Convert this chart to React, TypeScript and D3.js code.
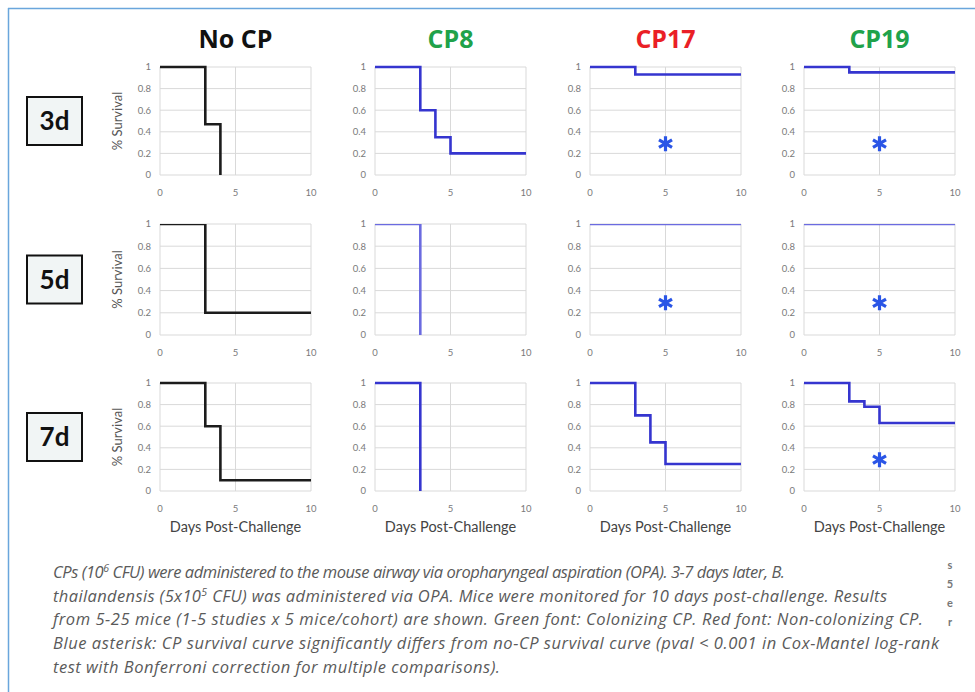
import React from 'react';
import * as d3 from 'd3';

// ---------- data ----------
const cohorts = ['No CP', 'CP8', 'CP17', 'CP19'];
const pretreatment = ['3d', '5d', '7d'];
const xTicks = [0, 5, 10];
const yTicks = [0, 0.2, 0.4, 0.6, 0.8, 1];
const yTickLabels = ['0', '0.2', '0.4', '0.6', '0.8', '1'];
const studyEnd = 10;

// Kaplan-Meier step events: [day, survival after event]
const noCP_3d: [number, number][] = [[0, 1], [3, 0.47], [4, 0]];
const cp8_3d: [number, number][] = [[0, 1], [3, 0.6], [4, 0.35], [5, 0.2]];
const cp17_3d: [number, number][] = [[0, 1], [3, 0.93]];
const cp19_3d: [number, number][] = [[0, 1], [3, 0.95]];
const noCP_5d: [number, number][] = [[0, 1], [3, 0.2]];
const cp8_5d: [number, number][] = [[0, 1], [3, 0]];
const cp17_5d: [number, number][] = [[0, 1]];
const cp19_5d: [number, number][] = [[0, 1]];
const noCP_7d: [number, number][] = [[0, 1], [3, 0.6], [4, 0.1]];
const cp8_7d: [number, number][] = [[0, 1], [3, 0]];
const cp17_7d: [number, number][] = [[0, 1], [3, 0.7], [4, 0.45], [5, 0.25]];
const cp19_7d: [number, number][] = [[0, 1], [3, 0.83], [4, 0.78], [5, 0.63]];

const curves = [
  [noCP_3d, cp8_3d, cp17_3d, cp19_3d],
  [noCP_5d, cp8_5d, cp17_5d, cp19_5d],
  [noCP_7d, cp8_7d, cp17_7d, cp19_7d],
];

const significant_3d = [false, false, true, true];
const significant_5d = [false, false, true, true];
const significant_7d = [false, false, false, true];
const significant = [significant_3d, significant_5d, significant_7d];
const asteriskDay = 5;
const asteriskLevel = 0.29;

const captionLines: { text: string; sup?: string; rest?: string }[] = [
  { text: 'CPs (10', sup: '6', rest: ' CFU) were administered to the mouse airway via oropharyngeal aspiration (OPA). 3-7 days later, B.' },
  { text: 'thailandensis (5x10', sup: '5', rest: ' CFU) was administered via OPA. Mice were monitored for 10 days post-challenge. Results' },
  { text: 'from 5-25 mice (1-5 studies x 5 mice/cohort) are shown. Green font: Colonizing CP. Red font: Non-colonizing CP.' },
  { text: 'Blue asterisk: CP survival curve significantly differs from no-CP survival curve (pval < 0.001 in Cox-Mantel log-rank' },
  { text: 'test with Bonferroni correction for multiple comparisons).' },
];
const strayGlyphs = ['s', '5', 'e', 'r'];

// ---------- style / layout ----------
const W = 975;
const H = 692;
const colLeft = [160, 375, 590, 804];
const plotW = 151;
const rowTop = [67, 224, 383];
const rowBottom = [175, 335, 491];
const captionWidths = [732, 834, 870, 886, 447];
const titleColors = ['#111111', '#20a24a', '#ea1f26', '#20a24a'];
const curveColors = ['#1c1c1c', '#3535cf', '#3535cf', '#3535cf'];
const gridColor = '#d9d9d9';
const tickColor = '#7a7a7a';
const chartFont = 'Lato, "Open Sans", sans-serif';
const titleFont = '"Open Sans", Lato, sans-serif';

function Panel({ r, c }: { r: number; c: number }) {
  const left = colLeft[c];
  const x = d3.scaleLinear().domain([0, studyEnd]).range([left, left + plotW]);
  const y = d3.scaleLinear().domain([0, 1]).range([rowBottom[r], rowTop[r]]);
  const ev = curves[r][c];
  const last = ev[ev.length - 1][1];
  const pts: [number, number][] = last > 0 ? [...ev, [studyEnd, last]] : ev;
  const line = d3
    .line<[number, number]>()
    .x((d) => x(d[0]))
    .y((d) => y(d[1]))
    .curve(d3.curveStepAfter);
  const clipId = `clip-${r}-${c}`;
  const clipTop = r === 1 ? y(1) : y(1) - 4;
  const ast = d3.symbol().type(d3.symbolAsterisk).size(160)();
  return (
    <g>
      <defs>
        <clipPath id={clipId}>
          <rect x={x(0) - 4} y={clipTop} width={plotW + 8} height={y(0) - clipTop + 4} />
        </clipPath>
      </defs>
      {yTicks.map((t) => (
        <line key={'h' + t} x1={x(0)} x2={x(studyEnd)} y1={y(t)} y2={y(t)} stroke={gridColor} strokeWidth={1} />
      ))}
      {xTicks.map((t) => (
        <line key={'v' + t} x1={x(t)} x2={x(t)} y1={y(0)} y2={y(1)} stroke={gridColor} strokeWidth={1} />
      ))}
      {yTicks.map((t, i) => (
        <text key={'yl' + t} x={x(0) - 9} y={y(t)} dy="0.35em" textAnchor="end" fontSize={9.5} fill={tickColor} fontFamily={chartFont}>
          {yTickLabels[i]}
        </text>
      ))}
      {xTicks.map((t) => (
        <text key={'xl' + t} x={x(t)} y={y(0) + 21} textAnchor="middle" fontSize={9.5} fill={tickColor} fontFamily={chartFont}>
          {t}
        </text>
      ))}
      <path
        d={line(pts) || ''}
        fill="none"
        stroke={r === 1 && c > 0 ? '#6b6be0' : curveColors[c]}
        strokeWidth={2.6}
        clipPath={`url(#${clipId})`}
      />
      {r === 1 && c === 1 && (
        <path
          d={line(pts.slice(1)) || ''}
          fill="none"
          stroke={curveColors[c]}
          strokeWidth={2.6}
        />
      )}
      {significant[r][c] && (
        <path d={ast || ''} transform={`translate(${x(asteriskDay)},${y(asteriskLevel)})`} fill="none" stroke="#2a55e6" strokeWidth={3.2} />
      )}
      {c === 0 && (
        <text
          transform={`translate(${117},${(rowTop[r] + rowBottom[r]) / 2}) rotate(-90)`}
          textAnchor="middle"
          dy="0.35em"
          fontSize={13}
          fill="#555"
          fontFamily={chartFont}
        >
          % Survival
        </text>
      )}
      {r === 2 && (
        <text x={x(5)} y={y(0) + 41} textAnchor="middle" fontSize={14.5} fill="#444" fontFamily={chartFont}>
          Days Post-Challenge
        </text>
      )}
    </g>
  );
}

export default function App() {
  return (
    <svg width={W} height={H} style={{ position: 'absolute', left: 0, top: 0, background: '#fff' }}>
      <rect x={0} y={0} width={W} height={H} fill="#fff" />
      <line x1={8} x2={W} y1={8.5} y2={8.5} stroke="#6aa6dc" strokeWidth={1.5} />
      <line x1={8.5} x2={8.5} y1={8} y2={H} stroke="#6aa6dc" strokeWidth={1.5} />
      {cohorts.map((name, c) => (
        <text key={name} x={colLeft[c] + plotW / 2} y={48} textAnchor="middle" fontSize={25} fontWeight={700} fill={titleColors[c]} fontFamily={titleFont}>
          {name}
        </text>
      ))}
      {pretreatment.map((lab, r) => {
        const cy = (rowTop[r] + rowBottom[r]) / 2;
        return (
          <g key={lab}>
            <rect x={27} y={cy - 24} width={55} height={48} fill="#f1f5f5" stroke="#111" strokeWidth={2} />
            <text x={54.5} y={cy} dy="0.36em" textAnchor="middle" fontSize={26} fontWeight={700} fill="#111" fontFamily={chartFont}>
              {lab}
            </text>
          </g>
        );
      })}
      {pretreatment.map((_, r) => cohorts.map((__, c) => <Panel key={`${r}-${c}`} r={r} c={c} />))}
      {captionLines.map((ln, i) => (
        <text
          key={i}
          x={53}
          y={578 + i * 23.7}
          fontSize={16.5}
          fontStyle="italic"
          fill="#5a5a5a"
          fontFamily='"Open Sans", sans-serif'
          textLength={captionWidths[i]}
          lengthAdjust="spacing"
        >
          {ln.text}
          {ln.sup && (
            <tspan dy={-6} fontSize={10.5}>
              {ln.sup}
            </tspan>
          )}
          {ln.rest && <tspan dy={ln.sup ? 6 : 0}>{ln.rest}</tspan>}
        </text>
      ))}
      {strayGlyphs.map((g, i) => (
        <text key={g + i} x={950} y={569 + i * 19} textAnchor="middle" fontSize={11} fontWeight={700} fill="#777" fontFamily={chartFont}>
          {g}
        </text>
      ))}
    </svg>
  );
}
